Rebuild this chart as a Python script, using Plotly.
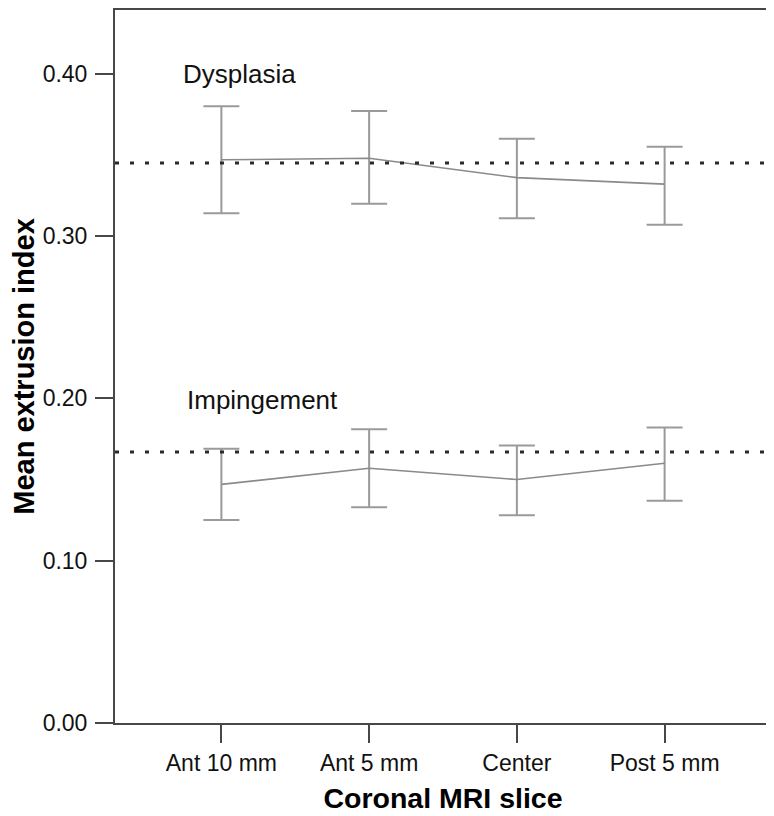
import plotly.graph_objects as go

# coronal slices
slices = ["Ant 10 mm", "Ant 5 mm", "Center", "Post 5 mm"]

# dysplasia group: mean and 95% CI bounds
dys_mean = [0.347, 0.348, 0.336, 0.332]
dys_upper = [0.380, 0.377, 0.360, 0.355]
dys_lower = [0.314, 0.320, 0.311, 0.307]
dys_overall = 0.345

# impingement group
imp_mean = [0.147, 0.157, 0.150, 0.160]
imp_upper = [0.169, 0.181, 0.171, 0.182]
imp_lower = [0.125, 0.133, 0.128, 0.137]
imp_overall = 0.167

y_ticks = [0.0, 0.1, 0.2, 0.3, 0.4]

FONT = "Liberation Sans, Arial, sans-serif"
AXIS = "#474747"


def group_trace(mean, upper, lower):
    return go.Scatter(
        x=slices, y=mean, mode="lines",
        line=dict(color="#8a8a8a", width=1.6),
        error_y=dict(
            type="data", symmetric=False,
            array=[u - m for u, m in zip(upper, mean)],
            arrayminus=[m - l for m, l in zip(mean, lower)],
            color="#9a9a9a", thickness=2, width=18,
        ),
        showlegend=False, hoverinfo="skip",
    )


fig = go.Figure()
fig.add_trace(group_trace(dys_mean, dys_upper, dys_lower))
fig.add_trace(group_trace(imp_mean, imp_upper, imp_lower))

for level in [dys_overall, imp_overall]:
    fig.add_shape(type="line", xref="paper", yref="y", x0=0, x1=1,
                  y0=level, y1=level,
                  line=dict(color="#2a2a2a", width=3, dash="4px,11px"))

fig.add_annotation(x=-0.27, y=0.40, text="Dysplasia", showarrow=False,
                   xanchor="left", yanchor="middle",
                   font=dict(family=FONT, size=26, color="#111"))
fig.add_annotation(x=-0.245, y=0.199, text="Impingement", showarrow=False,
                   xanchor="left", yanchor="middle",
                   font=dict(family=FONT, size=26, color="#111"))

# page body adds an 8px offset, margins compensate for it
fig.update_layout(
    width=774, height=816,
    margin=dict(l=107, r=11, t=0, b=101),
    paper_bgcolor="white", plot_bgcolor="white",
    font=dict(family=FONT, color="#111"),
    xaxis=dict(
        type="category", range=[-0.72, 3.72],
        showline=True, mirror=True, linecolor=AXIS, linewidth=2,
        ticks="outside", ticklen=18, tickwidth=2, tickcolor=AXIS,
        showgrid=False, zeroline=False,
        tickfont=dict(family=FONT, size=23, color="#111"),
        title=dict(text="<b>Coronal MRI slice</b>", standoff=13,
                   font=dict(family=FONT, size=28.5, color="#000")),
    ),
    yaxis=dict(
        range=[0, 0.4393], tickvals=y_ticks, tickformat=".2f",
        showline=True, mirror=True, linecolor=AXIS, linewidth=2,
        ticks="outside", ticklen=18, tickwidth=2, tickcolor=AXIS,
        ticklabelstandoff=3, automargin=False,
        showgrid=False, zeroline=False,
        tickfont=dict(family=FONT, size=23, color="#111"),
        title=dict(text="<b>Mean extrusion index</b>", standoff=18,
                   font=dict(family=FONT, size=29, color="#000")),
    ),
)

fig.write_html("out.html")
